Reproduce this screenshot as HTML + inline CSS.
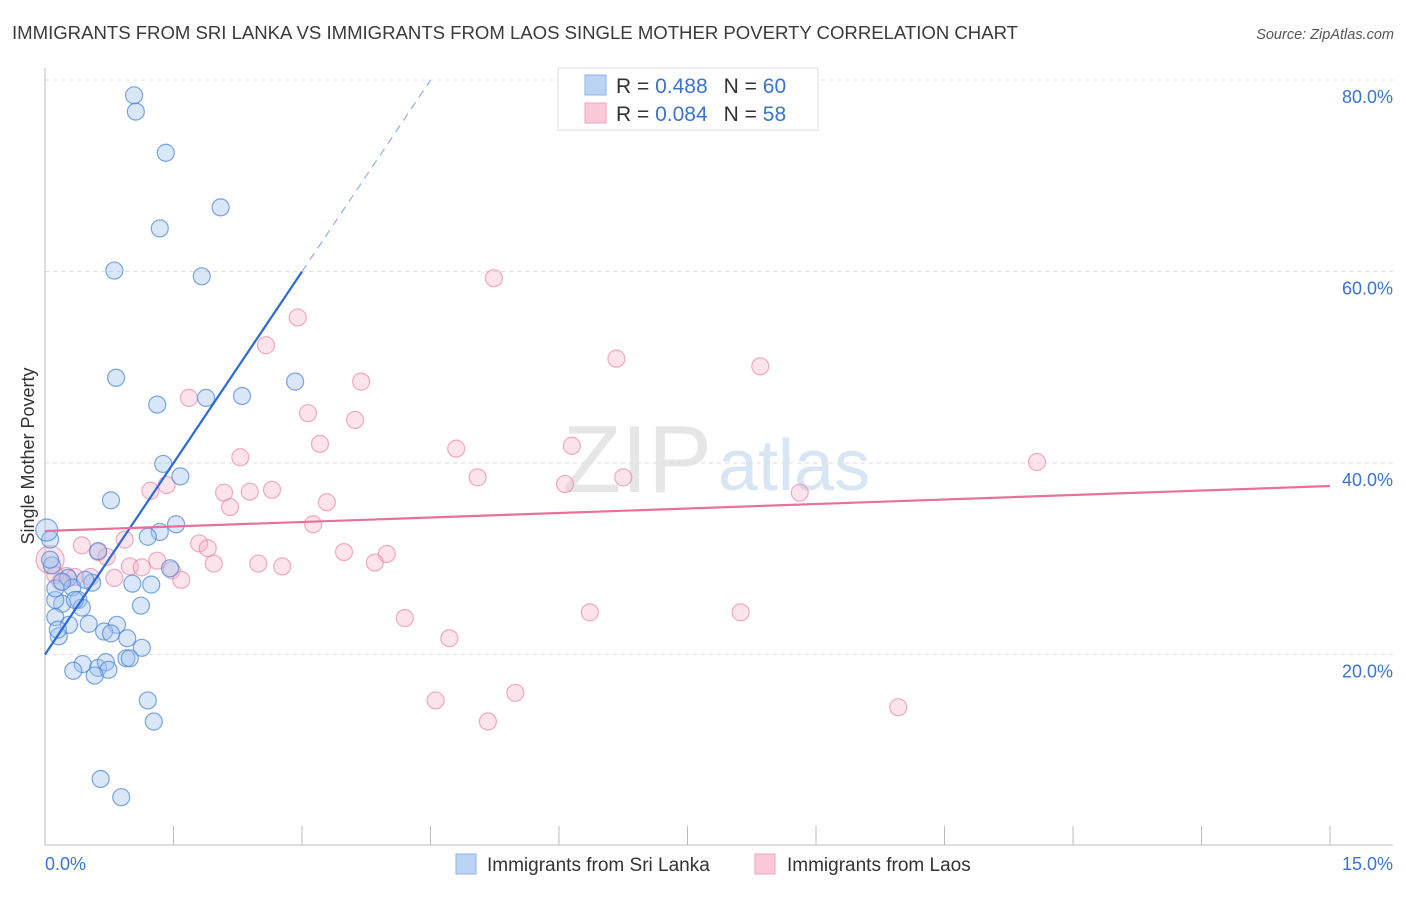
<!DOCTYPE html>
<html><head><meta charset="utf-8"><style>
body{margin:0;background:#fff;font-family:"Liberation Sans",sans-serif;}
svg text{font-family:"Liberation Sans",sans-serif;}
</style></head><body>
<svg id="chart" width="1406" height="892">
<text x="12" y="39" font-size="18.6" fill="#3a3a3a" textLength="1006">IMMIGRANTS FROM SRI LANKA VS IMMIGRANTS FROM LAOS SINGLE MOTHER POVERTY CORRELATION CHART</text>
<text x="1394" y="39" font-size="14.5" fill="#555" text-anchor="end" font-style="italic">Source: ZipAtlas.com</text>
<text x="712" y="492" font-size="96" fill="#e6e6e6" text-anchor="end" font-family="Liberation Serif">ZIP</text>
<text x="718" y="490" font-size="72" fill="#d8e5f4">atlas</text>
<g id="grid"></g>
<g id="axes"></g>
<g id="pts"></g>
<g id="trends"></g>
<text transform="translate(34,456) rotate(-90)" font-size="18" fill="#333" text-anchor="middle">Single Mother Poverty</text>
<text x="45" y="870" font-size="18" fill="#3b73d1">0.0%</text>
<text x="1393" y="870" font-size="18" fill="#3b73d1" text-anchor="end">15.0%</text>
<g>
<rect x="558" y="68" width="260" height="62" fill="#fff" stroke="#ddd"/>
<rect x="585" y="75" width="21" height="20" fill="#bcd4f4" stroke="#8db3ea"/>
<rect x="585" y="103" width="21" height="20" fill="#fbc9d8" stroke="#f2a3bc"/>
<text x="616" y="93" font-size="21" fill="#333">R = <tspan fill="#3b73d1">0.488</tspan><tspan dx="16">N = </tspan><tspan fill="#3b73d1">60</tspan></text>
<text x="616" y="121" font-size="21" fill="#333">R = <tspan fill="#3b73d1">0.084</tspan><tspan dx="16">N = </tspan><tspan fill="#3b73d1"> 58</tspan></text>
</g>
<g>
<rect x="456" y="854" width="20" height="20" fill="#bcd4f4" stroke="#8db3ea"/>
<text x="487" y="871" font-size="19" fill="#333">Immigrants from Sri Lanka</text>
</g>
<g>
<rect x="755" y="854" width="20" height="20" fill="#fbc9d8" stroke="#f2a3bc"/>
<text x="787" y="871" font-size="19" fill="#333">Immigrants from Laos</text>
</g>
</svg>
<script>
const blueX=[1.04,1.06,1.41,2.05,1.34,0.81,1.83,0.83,2.92,1.31,1.88,2.30,1.38,1.58,0.77,1.53,1.34,1.20,0.62,0.06,0.08,1.46,1.24,1.02,0.55,0.27,0.32,0.39,0.20,0.12,0.43,0.12,0.51,0.28,0.16,0.84,0.69,0.77,1.12,0.96,1.13,0.44,0.33,0.62,0.71,0.74,0.58,0.95,0.99,1.20,1.27,0.65,0.89,0.12,0.06,0.15,0.35,0.47,0.02,0.20];
const blueY=[78.4,76.7,72.4,66.7,64.5,60.1,59.5,48.9,48.5,46.1,46.8,47.0,39.9,38.6,36.1,33.6,32.8,32.3,30.8,32.0,29.3,29.0,27.3,27.4,27.5,28.0,27.0,25.7,25.3,25.7,24.9,23.9,23.2,23.1,21.9,23.1,22.4,22.2,25.1,21.7,20.7,19.0,18.3,18.6,19.2,18.4,17.8,19.6,19.6,15.2,13.0,7.0,5.1,26.9,29.9,22.6,25.7,27.8,33.0,27.6];
const pinkX=[5.24,2.95,2.58,6.67,8.35,3.69,1.68,3.07,3.62,3.21,4.80,6.15,2.28,11.58,5.05,6.75,6.07,1.42,1.23,2.09,2.39,2.65,8.81,3.29,2.16,3.13,0.93,0.43,1.80,1.90,0.62,0.72,1.31,3.49,3.99,0.99,1.97,2.49,2.77,3.85,1.48,1.13,0.25,0.35,0.53,0.81,1.59,0.18,0.06,4.20,6.36,8.12,4.72,4.56,5.49,5.17,9.96,0.12];
const pinkY=[59.3,55.2,52.3,50.9,50.1,48.5,46.8,45.2,44.5,42.0,41.5,41.8,40.6,40.1,38.5,38.5,37.8,37.7,37.1,36.9,37.0,37.2,36.9,35.9,35.4,33.6,32.0,31.4,31.6,31.1,30.7,30.2,29.8,30.7,30.5,29.2,29.5,29.5,29.2,29.6,28.8,29.1,28.2,28.1,28.1,28.0,27.8,27.6,29.9,23.8,24.4,24.4,21.7,15.2,16.0,13.0,14.5,28.3];
const yTicks=[20,40,60,80];
const yTickLabels=["20.0%","40.0%","60.0%","80.0%"];
const xTicks=[0,1.5,3,4.5,6,7.5,9,10.5,12,13.5,15];
const blueTrend=[20.0,13.33];
const pinkTrend=[32.9,0.313];
const NS="http://www.w3.org/2000/svg";
const sx=v=>45+v*1285/15, sy=v=>846-v*9.575;
function mk(p,t,a){const e=document.createElementNS(NS,t);for(const k in a)e.setAttribute(k,a[k]);p.appendChild(e);return e;}
const grid=document.getElementById('grid'),axes=document.getElementById('axes'),pts=document.getElementById('pts'),tr=document.getElementById('trends');
yTicks.forEach((v,i)=>{
 const l=mk(grid,'line',{x1:45,x2:1393,y1:sy(v),y2:sy(v),stroke:'#ddd','stroke-dasharray':'4,4'});
 
 
 const t=mk(grid,'text',{x:1393,y:sy(v)+23,'font-size':18,fill:'#3b73d1','text-anchor':'end'});
 t.textContent=yTickLabels[i];
 
 
});
const ya=mk(axes,'line',{x1:45,x2:45,y1:68,y2:845,stroke:'#bbb'});


const xa=mk(axes,'line',{x1:45,x2:1393,y1:845,y2:845,stroke:'#bbb'});


xTicks.forEach(v=>{const t=mk(axes,'line',{x1:sx(v),x2:sx(v),y1:826,y2:845,stroke:'#bbb'});
 
 });
function dot(x,y,fill,stroke,name,r){const c=mk(pts,'circle',{cx:sx(x),cy:sy(y),r:r,fill:fill,stroke:stroke,'stroke-width':1.2});
 
 }
pinkX.forEach((x,i)=>dot(x,pinkY[i],'rgba(248,176,198,0.35)','rgba(232,130,160,0.65)','laos-point',i==48?14:8.5));
blueX.forEach((x,i)=>dot(x,blueY[i],'rgba(160,196,240,0.4)','rgba(70,130,215,0.7)','sri-lanka-point',i==58?11:8.5));
const b1=mk(tr,'line',{x1:sx(0),y1:sy(blueTrend[0]),x2:sx(3),y2:sy(blueTrend[0]+3*blueTrend[1]),stroke:'#2a6ad6','stroke-width':2.2});


const b2=mk(tr,'line',{x1:sx(3),y1:sy(blueTrend[0]+3*blueTrend[1]),x2:sx(4.5),y2:sy(blueTrend[0]+4.5*blueTrend[1]),stroke:'#8fb0e6','stroke-width':1.2,'stroke-dasharray':'8,6'});


const p1=mk(tr,'line',{x1:sx(0),y1:sy(pinkTrend[0]),x2:sx(15),y2:sy(pinkTrend[0]+15*pinkTrend[1]),stroke:'#e8709a','stroke-width':2.2});


</script>
</body></html>
